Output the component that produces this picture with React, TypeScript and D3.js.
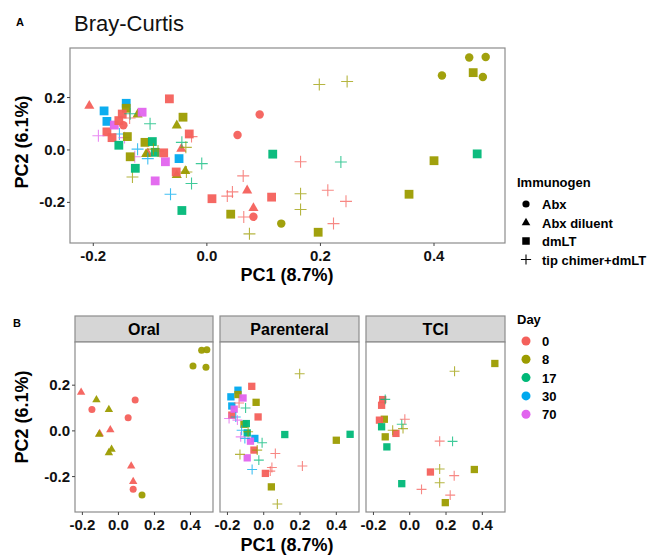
import React from "react";
import * as d3 from "d3";

// [PC1, PC2, immunogen, day]
type Row = [number, number, string, number];

const immunogens = ["Abx", "Abx diluent", "dmLT", "tip chimer+dmLT"];
const days = [0, 8, 17, 30, 70];
const dayColors = ["#F4605B", "#9C9C00", "#00B878", "#00A9EE", "#E164EE"];
const routes = ["Oral", "Parenteral", "TCI"];
const xTicks = [-0.2, 0.0, 0.2, 0.4];
const yTicks = [-0.2, 0.0, 0.2];

const oralPoints: Row[] = [
  [0.462, 0.353, "Abx", 8],
  [0.491, 0.355, "Abx", 8],
  [0.414, 0.284, "Abx", 8],
  [0.486, 0.278, "Abx", 8],
  [0.131, -0.281, "Abx", 8],
  [0.093, 0.135, "Abx", 0],
  [-0.147, 0.094, "Abx", 0],
  [0.054, 0.057, "Abx", 0],
  [0.082, -0.255, "Abx", 0],
  [-0.207, 0.17, "Abx diluent", 0],
  [-0.045, 0.006, "Abx diluent", 0],
  [0.071, -0.153, "Abx diluent", 0],
  [0.082, -0.22, "Abx diluent", 0],
  [-0.104, -0.011, "Abx diluent", 0],
  [-0.122, 0.137, "Abx diluent", 8],
  [-0.053, 0.095, "Abx diluent", 8],
  [-0.107, -0.014, "Abx diluent", 8],
  [-0.038, -0.079, "Abx diluent", 8],
  [-0.053, -0.094, "Abx diluent", 8],
];

const parenteralPoints: Row[] = [
  [-0.066, 0.195, "dmLT", 0],
  [-0.031, 0.061, "dmLT", 0],
  [-0.176, 0.069, "dmLT", 0],
  [-0.054, -0.084, "dmLT", 0],
  [0.009, -0.186, "dmLT", 0],
  [-0.142, 0.178, "dmLT", 30],
  [-0.181, 0.149, "dmLT", 30],
  [-0.176, 0.109, "dmLT", 30],
  [-0.049, -0.033, "dmLT", 30],
  [-0.142, 0.159, "dmLT", 8],
  [-0.042, 0.125, "dmLT", 8],
  [-0.109, 0.029, "dmLT", 8],
  [0.042, -0.245, "dmLT", 8],
  [0.4, -0.041, "dmLT", 8],
  [-0.114, 0.144, "dmLT", 70],
  [-0.163, 0.095, "dmLT", 70],
  [-0.073, -0.045, "dmLT", 70],
  [-0.091, -0.118, "dmLT", 70],
  [-0.096, 0.032, "dmLT", 17],
  [-0.091, -0.009, "dmLT", 17],
  [0.116, -0.016, "dmLT", 17],
  [0.476, -0.015, "dmLT", 17],
  [-0.136, 0.122, "tip chimer+dmLT", 0],
  [0.064, -0.099, "tip chimer+dmLT", 0],
  [0.213, -0.154, "tip chimer+dmLT", 0],
  [0.045, -0.16, "tip chimer+dmLT", 0],
  [0.036, -0.176, "tip chimer+dmLT", 0],
  [-0.1, 0.1, "tip chimer+dmLT", 17],
  [-0.009, -0.052, "tip chimer+dmLT", 17],
  [-0.027, -0.128, "tip chimer+dmLT", 17],
  [-0.154, 0.061, "tip chimer+dmLT", 30],
  [-0.122, 0.003, "tip chimer+dmLT", 30],
  [-0.104, -0.033, "tip chimer+dmLT", 30],
  [-0.064, -0.169, "tip chimer+dmLT", 30],
  [-0.191, 0.054, "tip chimer+dmLT", 70],
  [-0.145, 0.047, "tip chimer+dmLT", 70],
  [-0.127, -0.026, "tip chimer+dmLT", 70],
  [-0.086, -0.004, "tip chimer+dmLT", 8],
  [-0.036, -0.084, "tip chimer+dmLT", 8],
  [-0.131, -0.103, "tip chimer+dmLT", 8],
  [0.198, 0.25, "tip chimer+dmLT", 8],
  [0.075, -0.32, "tip chimer+dmLT", 8],
];

const tciPoints: Row[] = [
  [0.469, 0.295, "dmLT", 8],
  [-0.14, 0.051, "dmLT", 8],
  [-0.135, -0.026, "dmLT", 8],
  [0.356, -0.169, "dmLT", 8],
  [0.196, -0.314, "dmLT", 8],
  [-0.149, 0.137, "dmLT", 0],
  [-0.155, 0.112, "dmLT", 0],
  [-0.167, 0.047, "dmLT", 0],
  [-0.076, -0.011, "dmLT", 0],
  [0.114, -0.18, "dmLT", 0],
  [-0.155, 0.018, "dmLT", 17],
  [-0.126, -0.07, "dmLT", 17],
  [-0.044, -0.231, "dmLT", 17],
  [-0.135, 0.138, "tip chimer+dmLT", 17],
  [-0.044, 0.029, "tip chimer+dmLT", 17],
  [0.236, -0.046, "tip chimer+dmLT", 17],
  [-0.027, 0.051, "tip chimer+dmLT", 0],
  [0.165, -0.045, "tip chimer+dmLT", 0],
  [0.245, -0.196, "tip chimer+dmLT", 0],
  [0.065, -0.256, "tip chimer+dmLT", 0],
  [0.223, -0.281, "tip chimer+dmLT", 0],
  [0.247, 0.261, "tip chimer+dmLT", 8],
  [-0.094, 0.003, "tip chimer+dmLT", 8],
  [-0.037, 0.01, "tip chimer+dmLT", 8],
  [0.165, -0.167, "tip chimer+dmLT", 8],
  [0.165, -0.227, "tip chimer+dmLT", 8],
];

const routePoints = [oralPoints, parenteralPoints, tciPoints];
const allPoints: Row[] = [...oralPoints, ...parenteralPoints, ...tciPoints];

const X_DOMAIN: [number, number] = [-0.241, 0.525];
const Y_DOMAIN: [number, number] = [-0.355, 0.389];
const FONT = "'Liberation Sans', Arial, sans-serif";
const color = d3.scaleOrdinal<number, string>().domain(days).range(dayColors);

function Marker({ shape, x, y, fill, s }: { shape: string; x: number; y: number; fill: string; s: number }) {
  if (shape === "Abx") return <circle cx={x} cy={y} r={s * 0.48} fill={fill} />;
  if (shape === "Abx diluent") {
    const h = s * 1.0;
    const w = s * 1.15;
    const p = `M${x},${y - h * 0.62}L${x + w / 2},${y + h * 0.38}L${x - w / 2},${y + h * 0.38}Z`;
    return <path d={p} fill={fill} />;
  }
  if (shape === "dmLT") return <rect x={x - s / 2} y={y - s / 2} width={s} height={s} fill={fill} />;
  const c = s * 0.68;
  return (
    <path d={`M${x - c},${y}H${x + c}M${x},${y - c}V${y + c}`} stroke={fill} strokeWidth={1.1} fill="none" />
  );
}

function Panel({
  x0, x1, y0, y1, pts, size, showY, tickFs,
}: {
  x0: number; x1: number; y0: number; y1: number; pts: Row[]; size: number; showY: boolean; tickFs: number;
}) {
  const xs = d3.scaleLinear().domain(X_DOMAIN).range([x0, x1]);
  const ys = d3.scaleLinear().domain(Y_DOMAIN).range([y1, y0]);
  return (
    <g>
      <rect x={x0} y={y0} width={x1 - x0} height={y1 - y0} fill="white" stroke="#8c8c8c" strokeWidth={1.2} />
      {pts.map((p, i) => (
        <g key={i} opacity={p[2] === "tip chimer+dmLT" ? 0.75 : 0.95}>
          <Marker shape={p[2]} x={xs(p[0])} y={ys(p[1])} fill={color(p[3])} s={size} />
        </g>
      ))}
      {xTicks.map((t) => (
        <g key={t}>
          <line x1={xs(t)} x2={xs(t)} y1={y1} y2={y1 + 3} stroke="#444" strokeWidth={1} />
          <text x={xs(t)} y={y1 + 18} textAnchor="middle" fontSize={tickFs} fontWeight="bold" fontFamily={FONT} fill="#111">
            {d3.format(".1f")(t).replace("−", "-")}
          </text>
        </g>
      ))}
      {showY &&
        yTicks.map((t) => (
          <g key={t}>
            <line x1={x0 - 3} x2={x0} y1={ys(t)} y2={ys(t)} stroke="#444" strokeWidth={1} />
            <text x={x0 - 5} y={ys(t) + 5} textAnchor="end" fontSize={tickFs} fontWeight="bold" fontFamily={FONT} fill="#111">
              {d3.format(".1f")(t).replace("−", "-")}
            </text>
          </g>
        ))}
    </g>
  );
}

export default function App() {
  const facetX: [number, number][] = [[75, 213], [220, 359], [366, 505]];
  return (
    <svg width={647} height={555} style={{ position: "absolute", left: 0, top: 0 }} fontFamily={FONT}>
      <rect width={647} height={555} fill="white" />
      {/* Panel A */}
      <text x={16} y={26} fontSize={11} fontWeight="bold">A</text>
      <text x={74} y={31} fontSize={22} fill="#111">Bray-Curtis</text>
      <Panel x0={70} x1={505} y0={48} y1={243} pts={allPoints} size={8.8} showY={true} tickFs={15} />
      <text x={287} y={281} textAnchor="middle" fontSize={18} fontWeight="bold">PC1 (8.7%)</text>
      <text transform="translate(28,142) rotate(-90)" textAnchor="middle" fontSize={18} fontWeight="bold">PC2 (6.1%)</text>
      {/* Immunogen legend */}
      <text x={517} y={187} fontSize={13} fontWeight="bold">Immunogen</text>
      {immunogens.map((im, i) => (
        <g key={im}>
          <Marker shape={im} x={526} y={204 + i * 18.5} fill="#000" s={7.5} />
          <text x={542} y={209 + i * 18.5} fontSize={13} fontWeight="bold">{im}</text>
        </g>
      ))}
      {/* Panel B */}
      <text x={13} y={327} fontSize={11} fontWeight="bold">B</text>
      {routes.map((r, i) => (
        <g key={r}>
          <rect x={facetX[i][0]} y={316} width={facetX[i][1] - facetX[i][0]} height={26} fill="#D6D6D6" stroke="#8c8c8c" strokeWidth={1.2} />
          <text x={(facetX[i][0] + facetX[i][1]) / 2} y={335} textAnchor="middle" fontSize={16} fontWeight="bold">{r}</text>
          <Panel x0={facetX[i][0]} x1={facetX[i][1]} y0={342} y1={512} pts={routePoints[i]} size={7.3} showY={i === 0} tickFs={15} />
        </g>
      ))}
      <text x={287} y={551} textAnchor="middle" fontSize={18} fontWeight="bold">PC1 (8.7%)</text>
      <text transform="translate(28,417) rotate(-90)" textAnchor="middle" fontSize={18} fontWeight="bold">PC2 (6.1%)</text>
      {/* Day legend */}
      <text x={517} y={324} fontSize={13} fontWeight="bold">Day</text>
      {days.map((d, i) => (
        <g key={d}>
          <circle cx={526} cy={341 + i * 18.3} r={4.5} fill={color(d)} />
          <text x={542} y={346 + i * 18.3} fontSize={13} fontWeight="bold">{d}</text>
        </g>
      ))}
    </svg>
  );
}
